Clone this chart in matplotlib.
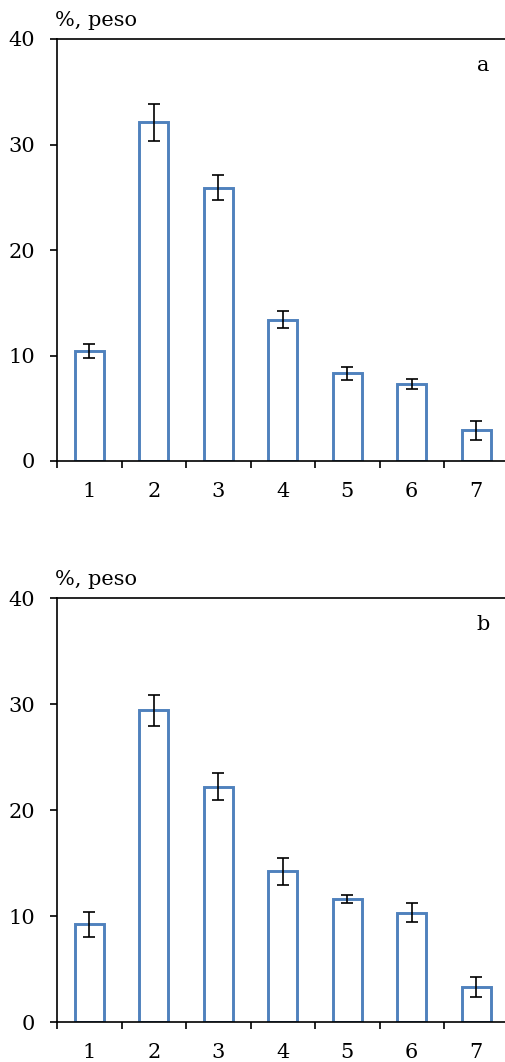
import matplotlib
matplotlib.use("Agg")
import matplotlib.pyplot as plt
import numpy as np

categories = [1, 2, 3, 4, 5, 6, 7]

values_a = [10.4, 32.1, 25.9, 13.4, 8.3, 7.3, 2.9]
errors_a = [0.65, 1.75, 1.2, 0.8, 0.6, 0.5, 0.9]

values_b = [9.2, 29.4, 22.2, 14.2, 11.6, 10.3, 3.3]
errors_b = [1.15, 1.45, 1.3, 1.25, 0.4, 0.9, 0.9]

panel_labels = ["a", "b"]
y_label = "%, peso"

plt.rcParams["font.family"] = ["DejaVu Serif"]
plt.rcParams["font.size"] = 15

fig = plt.figure(figsize=(5.05, 10.62), dpi=100)

# axes boxes in figure fraction: left, bottom, width, height
boxes = [
    (57 / 505, 1 - 461 / 1062, 451.5 / 505, 422 / 1062),
    (57 / 505, 1 - 1022 / 1062, 451.5 / 505, 424 / 1062),
]

for box, vals, errs, lab in zip(boxes, [values_a, values_b], [errors_a, errors_b], panel_labels):
    ax = fig.add_axes(box)
    ax.bar(categories, vals, width=0.45, facecolor="white",
           edgecolor="#4F81BD", linewidth=2.1, zorder=2)
    ax.errorbar(categories, vals, yerr=errs, fmt="none", ecolor="black",
                elinewidth=1.2, capsize=4.3, capthick=1.2, zorder=3)

    ax.set_xlim(0.5, 7.5)
    ax.set_ylim(0, 40)
    ax.set_yticks([0, 10, 20, 30, 40])
    ax.set_xticks(categories)
    ax.set_xticks(np.arange(0.5, 7.5, 1.0), minor=True)
    ax.tick_params(axis="x", which="major", length=0, pad=15)
    ax.tick_params(axis="x", which="minor", length=4.8, width=1.2, direction="out")
    ax.tick_params(axis="y", length=4.8, width=1.2, direction="out", pad=11)

    ax.spines["right"].set_visible(False)
    for s in ["left", "bottom", "top"]:
        ax.spines[s].set_linewidth(1.2)

    ax.text(0.943, 0.938, lab, transform=ax.transAxes, ha="center", va="center")
    ax.text(-0.005, 1.043, y_label, transform=ax.transAxes, ha="left", va="center")

fig.savefig("out.png", dpi=100)
